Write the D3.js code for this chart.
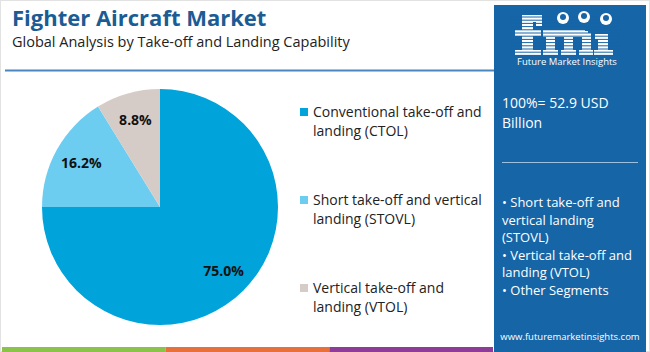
<!DOCTYPE html>
<html>
<head>
<meta charset="utf-8">
<script src="https://cdn.jsdelivr.net/npm/d3@7"></script>
<style>
  body { margin: 0; background: #fff; }
  svg { display: block; font-family: "Open Sans", sans-serif; }
</style>
</head>
<body>
<div id="chart"></div>
<script>
// data
var segments = ["Conventional take-off and landing (CTOL)", "Short take-off and vertical landing (STOVL)", "Vertical take-off and landing (VTOL)"];
var shares = [75.0, 16.2, 8.8];
var colors = ["#00a3da", "#6dcdf1", "#d6ccc7"];
var legendLines = [["Conventional take-off and", "landing (CTOL)"], ["Short take-off and vertical", "landing (STOVL)"], ["Vertical take-off and", "landing (VTOL)"]];
var sideBullets = [["\u2022 Short take-off and", "vertical landing", "(STOVL)"], ["\u2022 Vertical take-off and", "landing (VTOL)"], ["\u2022 Other Segments"]];
var stripeColors = ["#8bc34a", "#e8703a", "#8e3c97"];

var W = 650, H = 352;
var panelBlue = "#1565a7";

var svg = d3.select("#chart").append("svg")
    .attr("width", W)
    .attr("height", H);

// outer frame
svg.append("rect")
    .attr("x", 0.5).attr("y", 0.5)
    .attr("width", W - 1).attr("height", H - 1)
    .attr("fill", "none")
    .attr("stroke", "#e2e2e2");

// title
svg.append("text")
    .attr("x", 12).attr("y", 26)
    .text("Fighter Aircraft Market")
    .style("font-size", "22px")
    .style("font-weight", "700")
    .attr("fill", "#1a5c93");
svg.append("text")
    .attr("x", 12).attr("y", 47)
    .text("Global Analysis by Take-off and Landing Capability")
    .style("font-size", "14.5px")
    .attr("fill", "#222");
svg.append("line")
    .attr("x1", 5).attr("x2", 494)
    .attr("y1", 70.5).attr("y2", 70.5)
    .attr("stroke", "#4a86c0")
    .attr("stroke-width", 2);

// bottom colour stripe
var stripeX = d3.scaleBand().domain(d3.range(stripeColors.length)).range([2, 493]);
svg.selectAll(".stripe").data(stripeColors).enter().append("rect")
    .attr("class", "stripe")
    .attr("x", function(d, i) { return stripeX(i); })
    .attr("y", 347)
    .attr("width", stripeX.bandwidth())
    .attr("height", 5)
    .attr("fill", function(d) { return d; });

// pie
var cx = 160, cy = 207, r = 118;
var pie = d3.pie().sort(null).value(function(d) { return d; });
var arc = d3.arc().innerRadius(0).outerRadius(r);
var labelArc = d3.arc().innerRadius(90).outerRadius(90);
var pieGroup = svg.append("g").attr("transform", "translate(" + cx + "," + cy + ")");
var arcs = pie(shares);
pieGroup.selectAll("path").data(arcs).enter().append("path")
    .attr("d", arc)
    .attr("fill", function(d, i) { return colors[i]; });
pieGroup.selectAll("text").data(arcs).enter().append("text")
    .attr("transform", function(d) { return "translate(" + labelArc.centroid(d) + ")"; })
    .attr("text-anchor", "middle")
    .attr("dy", "0.35em")
    .text(function(d) { return d.data.toFixed(1) + "%"; })
    .style("font-size", "14px")
    .style("font-weight", "700")
    .attr("fill", "#111");

// legend
var legendY = [117, 205, 293];
var legend = svg.append("g").attr("class", "legend");
segments.forEach(function(s, i) {
    legend.append("rect")
        .attr("x", 300).attr("y", legendY[i] - 9)
        .attr("width", 8).attr("height", 8)
        .attr("fill", colors[i]);
    legendLines[i].forEach(function(line, j) {
        legend.append("text")
            .attr("x", 313).attr("y", legendY[i] + j * 19)
            .text(line)
            .style("font-size", "14px")
            .attr("fill", "#222");
    });
});

// side panel
var panel = svg.append("g");
panel.append("rect")
    .attr("x", 494).attr("y", 5)
    .attr("width", 152).attr("height", H - 5)
    .attr("fill", panelBlue);

// logo: striped "fmi" letter shapes with small globes
var logo = panel.append("g");
var letterRects = [
    // f
    [522, 17, 11, 38], [522, 15, 20, 7], [536, 15, 6, 11], [515, 30, 26, 6], [515, 50, 26, 5],
    // m
    [546, 30, 9, 25], [564, 33, 9, 22], [582, 33, 9, 22], [543, 30, 42, 7], [580, 31, 8, 6],
    [543, 50, 15, 5], [561, 50, 15, 5], [579, 50, 14, 5],
    // i
    [598, 34, 10, 21], [595, 34, 8, 5], [594, 50, 19, 5]
];
letterRects.forEach(function(d) {
    logo.append("rect")
        .attr("x", d[0]).attr("y", d[1])
        .attr("width", d[2]).attr("height", d[3])
        .attr("fill", "#fff");
});
d3.range(17, 56, 3.2).forEach(function(y) {
    logo.append("line")
        .attr("x1", 510).attr("x2", 620)
        .attr("y1", y).attr("y2", y)
        .attr("stroke", panelBlue)
        .attr("stroke-width", 1);
});
[[563, 18], [584, 17], [606, 19]].forEach(function(d) {
    logo.append("circle")
        .attr("cx", d[0]).attr("cy", d[1])
        .attr("r", 6)
        .attr("fill", "#fff");
    logo.append("circle")
        .attr("cx", d[0]).attr("cy", d[1] - 1)
        .attr("r", 3)
        .attr("fill", panelBlue);
});
logo.append("text")
    .attr("x", 567).attr("y", 65)
    .attr("text-anchor", "middle")
    .text("Future Market Insights")
    .style("font-size", "9.5px")
    .attr("fill", "#fff");

panel.append("text")
    .attr("x", 502).attr("y", 108)
    .text("100%= 52.9 USD")
    .style("font-size", "14px")
    .attr("fill", "#fff");
panel.append("text")
    .attr("x", 502).attr("y", 128)
    .text("Billion")
    .style("font-size", "14px")
    .attr("fill", "#fff");
panel.append("line")
    .attr("x1", 502).attr("x2", 638)
    .attr("y1", 162.5).attr("y2", 162.5)
    .attr("stroke", "#9fc0dd")
    .attr("stroke-width", 1);

var by = 207;
sideBullets.forEach(function(lines) {
    lines.forEach(function(line) {
        panel.append("text")
            .attr("x", 502).attr("y", by)
            .text(line)
            .style("font-size", "13px")
            .attr("fill", "#fff");
        by += 17.5;
    });
});

panel.append("text")
    .attr("x", 570).attr("y", 340)
    .attr("text-anchor", "middle")
    .text("www.futuremarketinsights.com")
    .style("font-size", "9.5px")
    .attr("fill", "#fff");
</script>
</body>
</html>
